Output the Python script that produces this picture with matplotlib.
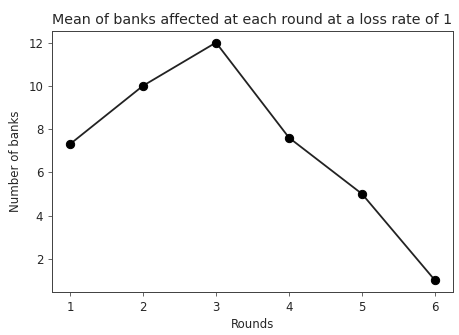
import matplotlib
matplotlib.use("Agg")
import matplotlib.pyplot as plt

rounds = [1, 2, 3, 4, 5, 6]
mean_banks = [7.3, 10.0, 12.0, 7.6, 5.0, 1.0]

fig = plt.figure(figsize=(459 / 72, 335 / 72), dpi=72)
ax = fig.add_axes([0.1126, 0.1275, 0.875, 0.7809])

ax.plot(rounds, mean_banks, color="#222222", linewidth=1.8, marker="o",
        markersize=8.3, markerfacecolor="black", markeredgecolor="black")

ax.set_title("Mean of banks affected at each round at a loss rate of 1",
             fontsize=14.2, color="#262626", pad=7)
ax.set_xlabel("Rounds", fontsize=11.8, color="#262626", labelpad=4)
ax.set_ylabel("Number of banks", fontsize=11.8, color="#262626", labelpad=6)
ax.set_xticks(rounds)
ax.set_yticks([2, 4, 6, 8, 10, 12])
ax.tick_params(labelsize=11.8, labelcolor="#262626", color="#444444",
               length=4.2, pad=4.2)
for s in ax.spines.values():
    s.set_color("#444444")
    s.set_linewidth(1.0)

fig.savefig("out.png", dpi=72)
